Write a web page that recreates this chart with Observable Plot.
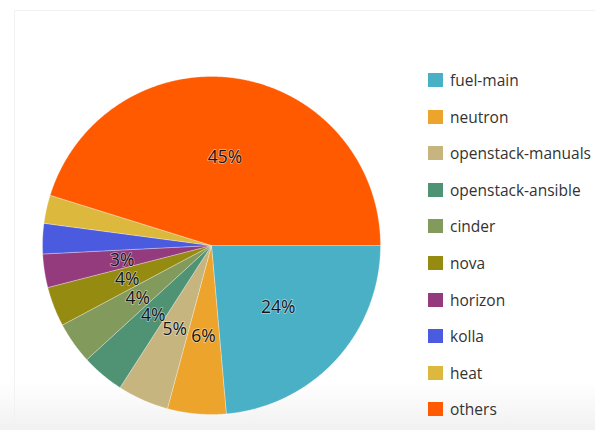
<!DOCTYPE html>
<html>
<head>
<meta charset="utf-8">
<script src="https://cdn.jsdelivr.net/npm/d3@7"></script>
<script src="https://cdn.jsdelivr.net/npm/@observablehq/plot@0.6"></script>
<style>
  html, body { margin: 0; padding: 0; background: #fff; }
  #wrap { position: relative; width: 595px; height: 430px; overflow: hidden;
          font-family: "Open Sans", "Noto Sans", sans-serif;
          background: linear-gradient(to bottom, #ffffff 0px, #ffffff 382px, #f1f1f1 430px); }
  #frame { position: absolute; left: 14px; top: 10px; right: -2px; bottom: -2px;
           border-left: 1px solid #f2f2f2; border-top: 1px solid #f2f2f2; }
  #chart { position: absolute; left: 0; top: 0; }
  #legend { position: absolute; left: 428px; top: 73px; }
  .item { display: flex; align-items: center; height: 14px; margin-bottom: 22.6px;
          font-size: 15.5px; color: #333; white-space: nowrap; }
  .sw { width: 15px; height: 14px; margin-right: 7px; flex: none; }
</style>
</head>
<body>
<div id="wrap"><div id="frame"></div><div id="chart"></div><div id="legend"></div></div>
<script>
// ---- data ----
const categories = ["fuel-main", "neutron", "openstack-manuals", "openstack-ansible", "cinder",
                    "nova", "horizon", "kolla", "heat", "others"];
const shares = [23.6, 5.6, 4.9, 4.1, 4.0, 3.8, 3.2, 2.9, 2.7, 45.2];
const colors = ["#4ab0c5", "#eca42c", "#c7b57f", "#4f9374", "#839a5d",
                "#958b10", "#943b7e", "#4b5be0", "#dcb83c", "#ff5a00"];
const labelThreshold = 3.0; // slices below this share carry no label

// ---- layout ----
const W = 595, H = 430, cx = 211, cy = 245, R = 169, labelR = 0.535;

// slices start at 3 o'clock and run clockwise
const rows = categories.map((c, i) => ({cat: c, v: shares[i]}));
const pie = d3.pie().value(d => d.v).sort(null).startAngle(Math.PI / 2).endAngle(Math.PI / 2 + 2 * Math.PI);
const arcs = pie(rows);

// d3 pie angles: 0 = 12 o'clock, clockwise. Convert to unit (x right, y up).
const ux = a => Math.sin(a), uy = a => Math.cos(a);
const poly = [];
for (const a of arcs) {
  poly.push({cat: a.data.cat, x: 0, y: 0});
  const n = Math.max(2, Math.ceil((a.endAngle - a.startAngle) / 0.005));
  for (let k = 0; k <= n; k++) {
    const t = a.startAngle + (a.endAngle - a.startAngle) * k / n;
    poly.push({cat: a.data.cat, x: ux(t), y: uy(t)});
  }
  poly.push({cat: a.data.cat, x: 0, y: 0});
}
const labels = arcs.filter(a => a.data.v >= labelThreshold).map(a => {
  const m = (a.startAngle + a.endAngle) / 2;
  return {x: labelR * ux(m), y: labelR * uy(m), text: Math.round(a.data.v) + "%"};
});

const plot = Plot.plot({
  width: W, height: H,
  margin: 0,
  x: {domain: [-cx / R, (W - cx) / R], axis: null},
  y: {domain: [-(H - cy) / R, cy / R], axis: null},
  color: {domain: categories, range: colors},
  style: {background: "transparent", overflow: "visible"},
  marks: [
    Plot.line(poly, {x: "x", y: "y", z: "cat", fill: "cat", stroke: "#ffffff",
                     strokeWidth: 0.6, strokeOpacity: 0.5, curve: "linear"}),
    Plot.text(labels, {x: "x", y: "y", text: "text", fontSize: 17.5, fill: "#141414",
                       stroke: "#ffffff", strokeWidth: 1.5, strokeOpacity: 0.5,
                       paintOrder: "stroke", dy: 1,
                       fontFamily: "Open Sans, Noto Sans, sans-serif"})
  ]
});
document.getElementById("chart").appendChild(plot);

const leg = document.getElementById("legend");
categories.forEach((c, i) => {
  const it = document.createElement("div");
  it.className = "item";
  const sw = document.createElement("span");
  sw.className = "sw";
  sw.style.background = colors[i];
  const tx = document.createElement("span");
  tx.textContent = c;
  it.appendChild(sw); it.appendChild(tx);
  leg.appendChild(it);
});
</script>
</body>
</html>
